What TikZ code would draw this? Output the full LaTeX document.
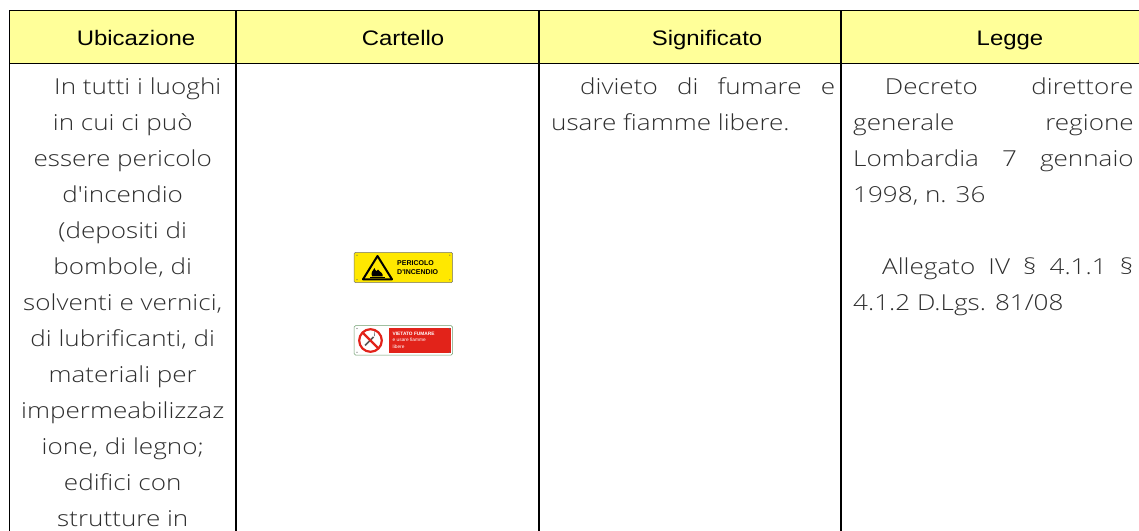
\documentclass[tikz,border=0pt]{standalone}
\usepackage{fontspec}
\IfFontExistsTF{Open Sans Light}
  {\setmainfont{Open Sans Light}[FakeStretch=1.185, Ligatures=TeXOff]}
  {\setmainfont{Open Sans}[FakeStretch=1.14, Ligatures=TeXOff]}
\newfontfamily\hdrfont{Liberation Sans}[FakeStretch=1.14]
\newfontfamily\signfont{Liberation Sans}
\definecolor{hdrfill}{HTML}{FFFF99}
\definecolor{bodyink}{HTML}{2E2E2E}
\definecolor{signyellow}{HTML}{FFE800}
\definecolor{signred}{HTML}{E2231A}
\definecolor{signgreen}{HTML}{6E9E6E}
\begin{document}
\begin{tikzpicture}[x=1pt,y=-1pt,
  rule/.style={line width=1.3pt, draw=black},
  hdrlabel/.style={font={\hdrfont\fontsize{21}{24}\selectfont}, anchor=base, inner sep=0pt},
  bodyline/.style={font={\fontsize{22}{36}\selectfont}, text=bodyink, anchor=base, inner sep=0pt},
  bodyleft/.style={bodyline, anchor=base west},
  signtxt/.style={inner sep=0pt, anchor=base west},
  signframe/.style={line width=0.5pt, rounded corners=1.5pt},
  screw/.style={fill=black!60}]
\useasboundingbox (0,0) rectangle (1139,530);
\clip (0,0) rectangle (1139,530);
\fill[white] (0,0) rectangle (1139,530);
% header band
\fill[hdrfill] (9.5,10.7) rectangle (1150,63.3);
\draw[rule] (1150,10.7) -- (9.5,10.7) -- (9.5,540);
\draw[rule] (9.5,63.3) -- (1150,63.3);
\foreach \xx in {236,539,841} \draw[rule] (\xx,10.7) -- (\xx,540);
\draw[rule] (1149,10.7) -- (1149,540);
% header labels
\node[hdrlabel] (hU) at (136,45.5) {Ubicazione};
\node[hdrlabel] (hC) at (403,45.5) {Cartello};
\node[hdrlabel] (hS) at (707,45.5) {Significato};
\node[hdrlabel] (hL) at (1010,45.5) {Legge};
% Ubicazione
\node[bodyline] (u0) at (137.75,94) {In tutti i luoghi};
\node[bodyline] (u1) at (122.75,130) {in cui ci può};
\node[bodyline] (u2) at (122.75,166) {essere pericolo};
\node[bodyline] (u3) at (122.75,202) {d'incendio};
\node[bodyline] (u4) at (122.75,238) {(depositi di};
\node[bodyline] (u5) at (122.75,274) {bombole, di};
\node[bodyline] (u6) at (122.75,310) {solventi e vernici,};
\node[bodyline] (u7) at (122.75,346) {di lubrificanti, di};
\node[bodyline] (u8) at (122.75,382) {materiali per};
\node[bodyline] (u9) at (122.75,418) {impermeabilizzaz};
\node[bodyline] (u10) at (122.75,454) {ione, di legno;};
\node[bodyline] (u11) at (122.75,490) {edifici con};
\node[bodyline] (u12) at (122.75,526) {strutture in};
% Significato
\node[bodyleft] (s1) at (580,94) {\makebox[255pt][s]{divieto di fumare e}};
\node[bodyleft] (s2) at (551,130) {usare fiamme libere.};
% Legge
\node[bodyleft] (l1) at (884.7,94) {\makebox[248.5pt][s]{Decreto direttore}};
\node[bodyleft] (l2) at (853,130) {\makebox[280.5pt][s]{generale regione}};
\node[bodyleft] (l3) at (853,166) {\makebox[280.5pt][s]{Lombardia 7 gennaio}};
\node[bodyleft] (l4) at (853,202) {1998, n. 36};
\node[bodyleft] (l5) at (882,274) {\makebox[251pt][s]{Allegato IV § 4.1.1 §}};
\node[bodyleft] (l6) at (853,310) {4.1.2 D.Lgs. 81/08};
% sign 1: pericolo d'incendio
\draw[signframe, draw=black!55, fill=signyellow] (354,252.3) rectangle (452.7,282.7);
\foreach \px/\py in {357/255.2, 449.8/255.2, 357/279.8, 449.8/279.8} \fill[screw] (\px,\py) circle (0.6);
\draw[line width=2pt, line join=round, fill=signyellow] (363,279.3) -- (377.5,256) -- (392,279.3) -- cycle;
\fill[black] (372,276.3) .. controls (370.5,272) and (373,271) .. (374.5,268) .. controls (375.5,271) and (376.5,272) .. (378,269.5) .. controls (380.5,272.5) and (383.5,273.5) .. (382.5,276.3) -- cycle;
\fill[black] (370,276.6) rectangle (385,277.6);
\node[signtxt, font={\signfont\bfseries\fontsize{7}{7}\selectfont}] (p1) at (397,265.8) {PERICOLO};
\node[signtxt, font={\signfont\bfseries\fontsize{7}{7}\selectfont}] (p2) at (397,274.6) {D'INCENDIO};
% sign 2: vietato fumare
\draw[signframe, draw=signgreen, fill=white] (354,325.7) rectangle (452.7,355);
\fill[signred] (389,327.6) rectangle (450.6,353.2);
\foreach \px/\py in {357/328.5, 449.8/328.5, 357/352.3, 449.8/352.3} \fill[screw] (\px,\py) circle (0.6);
\draw[black!65, line width=1.7pt] (365,345.5) -- (373.5,337);
\draw[black!50, line width=0.6pt] (374.5,336) .. controls (376,333) and (373,332) .. (375,330);
\draw[signred, line width=2.2pt] (370.5,340.5) circle (11.3);
\draw[signred, line width=2.2pt] (362.5,332.5) -- (378.5,348.5);
\node[signtxt, text=white, font={\signfont\bfseries\fontsize{4.8}{5}\selectfont}] (v1) at (392.5,335) {VIETATO FUMARE};
\node[signtxt, text=white, font={\signfont\fontsize{4.8}{5}\selectfont}] (v2) at (392.5,341.5) {e usare fiamme};
\node[signtxt, text=white, font={\signfont\fontsize{4.8}{5}\selectfont}] (v3) at (392.5,348) {libere};
\end{tikzpicture}
\end{document}
